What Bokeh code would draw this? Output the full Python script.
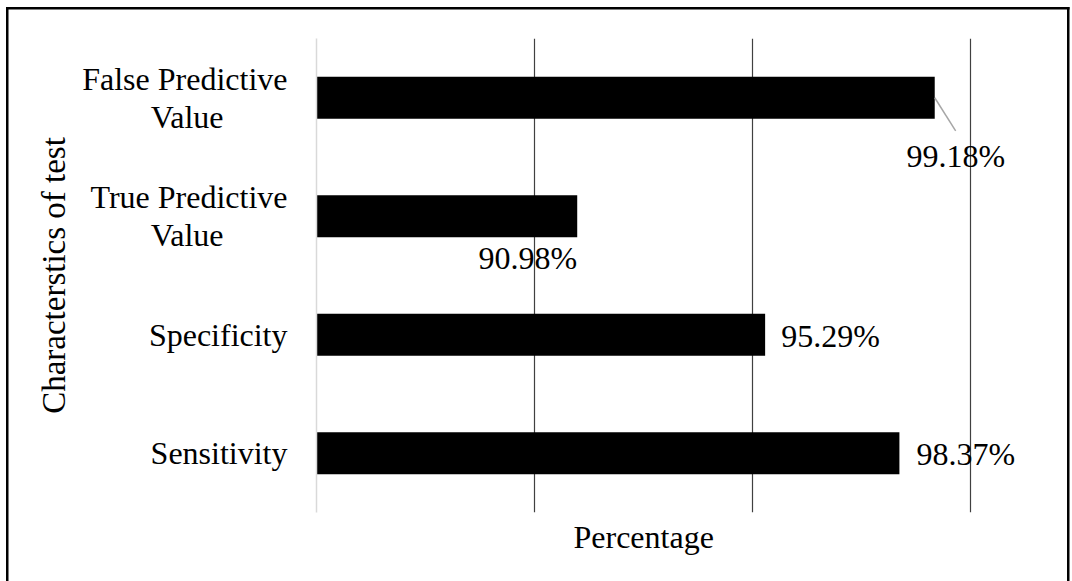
from bokeh.plotting import figure
from bokeh.models import ColumnDataSource, FactorRange, FixedTicker, Range1d, Title
from bokeh.transform import dodge
from bokeh.embed import file_html
from bokeh.resources import INLINE

# ---- data ----
# two-line category names; the no-break spaces centre the short second line under the first
categories = ["Sensitivity", "Specificity",
              "True Predictive\nValue" + "\u00a0" * 8,
              "False Predictive\nValue" + "\u00a0" * 8]
values = [98.37, 95.29, 90.98, 99.18]
value_labels = ["98.37%", "95.29%", "90.98%", "99.18%"]
x_ticks = [90, 95, 100]
x_start = 85
x_end = 102.34  # frame runs to the right edge so the value labels are not clipped

# ---- label styling (pixel offsets) ----
lab_x_offset = [17, 16, 0, 21]
lab_y_offset = [1, 1, 42, 58]
lab_align = ["left", "left", "right", "center"]

FONT = "Liberation Serif"
FS = "32px"

p = figure(width=1072, height=581, output_backend="svg", toolbar_location=None,
           y_range=FactorRange(*categories), x_range=Range1d(x_start, x_end),
           min_border_left=316, min_border_right=0, min_border_top=38, min_border_bottom=69)
p.outline_line_color = None
p.background_fill_color = None
p.border_fill_color = None
p.styles = {
    "background": ("linear-gradient(#000,#000) 5.5px 7px / 2.5px 100% no-repeat, "
                   "linear-gradient(#000,#000) 5.5px 7px / 1063.5px 2.5px no-repeat, "
                   "linear-gradient(#000,#000) 1066.5px 7px / 2.5px 100% no-repeat, #ffffff"),
}

src = ColumnDataSource(dict(cat=categories, val=values, lab=value_labels,
                            xo=lab_x_offset, yo=lab_y_offset, al=lab_align,
                            base=[x_start] * len(values)))

p.hbar(y="cat", left="base", right="val", height=0.355, source=src,
       fill_color="black", line_color=None)

p.text(x="val", y="cat", text="lab", x_offset="xo", y_offset="yo", text_align="al",
       text_baseline="middle", text_font=FONT, text_font_size=FS, text_color="black",
       source=src)

# leader line for the top label
lead = ColumnDataSource(dict(x0=[values[3]], y0=[categories[3]], x1=[values[3] + 0.48], y1=[categories[3]]))
p.segment(x0="x0", y0="y0", x1="x1", y1=dodge("y1", -0.28, range=p.y_range),
          line_color="#a6a6a6", line_width=1.5, source=lead)

# grid
p.xgrid.ticker = FixedTicker(ticks=x_ticks)
p.xgrid.grid_line_color = "#404040"
p.xgrid.grid_line_width = 1.2
p.ygrid.grid_line_color = None

# x axis hidden; its title drawn as a below-title centred on the 85-100 span
p.xaxis.visible = False
xt = Title(text="Percentage", align="left", offset=257, standoff=9, vertical_align="bottom",
           text_font=FONT, text_font_size=FS, text_font_style="normal", text_color="black")
p.add_layout(xt, "below")

# y axis
p.yaxis.axis_line_color = "#d9d9d9"
p.yaxis.axis_line_width = 1.5
p.yaxis.major_tick_line_color = None
p.yaxis.minor_tick_line_color = None
p.yaxis.major_label_text_font = FONT
p.yaxis.major_label_text_font_size = FS
p.yaxis.major_label_text_color = "black"
p.yaxis.major_label_text_line_height = 1.05
p.yaxis.major_label_standoff = 23
p.yaxis.axis_label = "Characterstics of test"
p.yaxis.axis_label_text_font = FONT
p.yaxis.axis_label_text_font_size = "33px"
p.yaxis.axis_label_text_font_style = "normal"
p.yaxis.axis_label_text_color = "black"
p.yaxis.axis_label_standoff = 7

open("out.html", "w").write(file_html(p, INLINE))
